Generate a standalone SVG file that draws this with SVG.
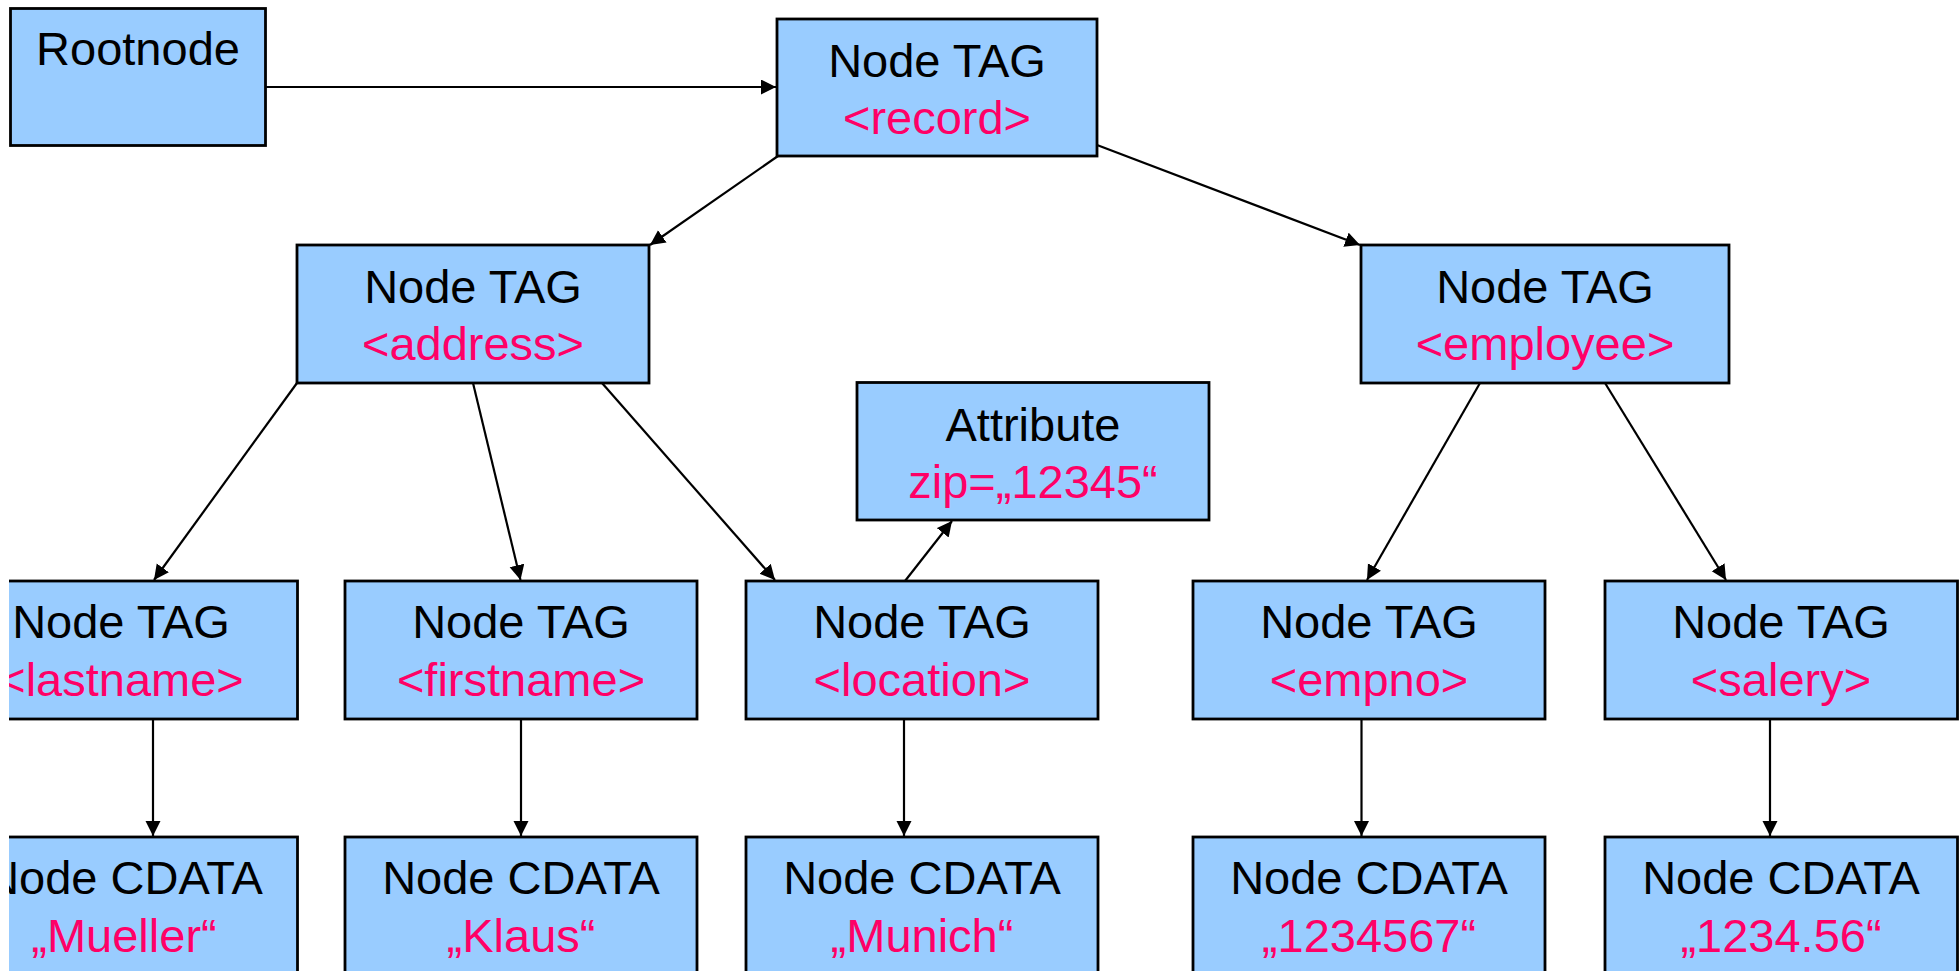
<svg xmlns="http://www.w3.org/2000/svg" width="1959" height="971" viewBox="0 0 1959 971">
  <style>
    .box { fill: #99CCFF; stroke: #000000; stroke-width: 2.8; }
    .t { font-family: "Liberation Sans", Arial, sans-serif; font-size: 47px; text-anchor: middle; fill: #000000; }
    .v { fill: #FF0066; }
    .edge { stroke: #000000; stroke-width: 2.2; fill: none; marker-end: url(#arrow); }
  </style>
  <defs>
    <marker id="arrow" markerUnits="userSpaceOnUse" markerWidth="16" markerHeight="16" refX="15" refY="7.5" orient="auto">
      <path d="M0,0 L15,7.5 L0,15 Z" fill="#000000"/>
    </marker>
    <clipPath id="page">
      <rect x="9" y="0" width="1950" height="971"/>
    </clipPath>
  </defs>
  <rect x="0" y="0" width="1959" height="971" fill="#FFFFFF"/>
  <g clip-path="url(#page)">
    <g id="connectors">
      <line class="edge" x1="266" y1="87" x2="776" y2="87"/>
      <line class="edge" x1="778" y1="156" x2="650" y2="245"/>
      <line class="edge" x1="1097" y1="145" x2="1360" y2="245"/>
      <line class="edge" x1="297" y1="383" x2="154" y2="580"/>
      <line class="edge" x1="473" y1="383" x2="520.5" y2="580"/>
      <line class="edge" x1="602" y1="383" x2="775" y2="580"/>
      <line class="edge" x1="905" y1="581" x2="952" y2="521"/>
      <line class="edge" x1="1480" y1="383" x2="1367" y2="580"/>
      <line class="edge" x1="1605" y1="383" x2="1726" y2="580"/>
      <line class="edge" x1="153" y1="719" x2="153" y2="836"/>
      <line class="edge" x1="521" y1="719" x2="521" y2="836"/>
      <line class="edge" x1="904" y1="719" x2="904" y2="836"/>
      <line class="edge" x1="1361.5" y1="719" x2="1361.5" y2="836"/>
      <line class="edge" x1="1770" y1="719" x2="1770" y2="836"/>
    </g>

    <g id="rootnode">
      <rect class="box" x="10.5" y="8.5" width="255" height="137"/>
      <text class="t" x="138" y="65">Rootnode</text>
    </g>

    <g id="record">
      <rect class="box" x="777" y="19" width="320" height="137"/>
      <text class="t" x="937" y="77">Node TAG</text>
      <text class="t v" x="937" y="134">&lt;record&gt;</text>
    </g>

    <g id="address">
      <rect class="box" x="297" y="245" width="352" height="138"/>
      <text class="t" x="473" y="303">Node TAG</text>
      <text class="t v" x="473" y="360">&lt;address&gt;</text>
    </g>

    <g id="employee">
      <rect class="box" x="1361" y="245" width="368" height="138"/>
      <text class="t" x="1545" y="303">Node TAG</text>
      <text class="t v" x="1545" y="360">&lt;employee&gt;</text>
    </g>

    <g id="attribute">
      <rect class="box" x="857" y="382.5" width="352" height="137.5"/>
      <text class="t" x="1033" y="441">Attribute</text>
      <text class="t v" x="1033" y="498">zip=„12345“</text>
    </g>

    <g id="lastname">
      <rect class="box" x="-55" y="581" width="352.5" height="138"/>
      <text class="t" x="121" y="638">Node TAG</text>
      <text class="t v" x="121" y="696">&lt;lastname&gt;</text>
    </g>

    <g id="firstname">
      <rect class="box" x="345" y="581" width="352" height="138"/>
      <text class="t" x="521" y="638">Node TAG</text>
      <text class="t v" x="521" y="696">&lt;firstname&gt;</text>
    </g>

    <g id="location">
      <rect class="box" x="746" y="581" width="352" height="138"/>
      <text class="t" x="922" y="638">Node TAG</text>
      <text class="t v" x="922" y="696">&lt;location&gt;</text>
    </g>

    <g id="empno">
      <rect class="box" x="1193" y="581" width="352" height="138"/>
      <text class="t" x="1369" y="638">Node TAG</text>
      <text class="t v" x="1369" y="696">&lt;empno&gt;</text>
    </g>

    <g id="salery">
      <rect class="box" x="1605" y="581" width="352.5" height="138"/>
      <text class="t" x="1781" y="638">Node TAG</text>
      <text class="t v" x="1781" y="696">&lt;salery&gt;</text>
    </g>

    <g id="cdata-mueller">
      <rect class="box" x="-55" y="837" width="352.5" height="160"/>
      <text class="t" x="124" y="894">Node CDATA</text>
      <text class="t v" x="124" y="952">„Mueller“</text>
    </g>

    <g id="cdata-klaus">
      <rect class="box" x="345" y="837" width="352" height="160"/>
      <text class="t" x="521" y="894">Node CDATA</text>
      <text class="t v" x="521" y="952">„Klaus“</text>
    </g>

    <g id="cdata-munich">
      <rect class="box" x="746" y="837" width="352" height="160"/>
      <text class="t" x="922" y="894">Node CDATA</text>
      <text class="t v" x="922" y="952">„Munich“</text>
    </g>

    <g id="cdata-empno">
      <rect class="box" x="1193" y="837" width="352" height="160"/>
      <text class="t" x="1369" y="894">Node CDATA</text>
      <text class="t v" x="1369" y="952">„1234567“</text>
    </g>

    <g id="cdata-salery">
      <rect class="box" x="1605" y="837" width="352.5" height="160"/>
      <text class="t" x="1781" y="894">Node CDATA</text>
      <text class="t v" x="1781" y="952">„1234.56“</text>
    </g>
  </g>
</svg>
